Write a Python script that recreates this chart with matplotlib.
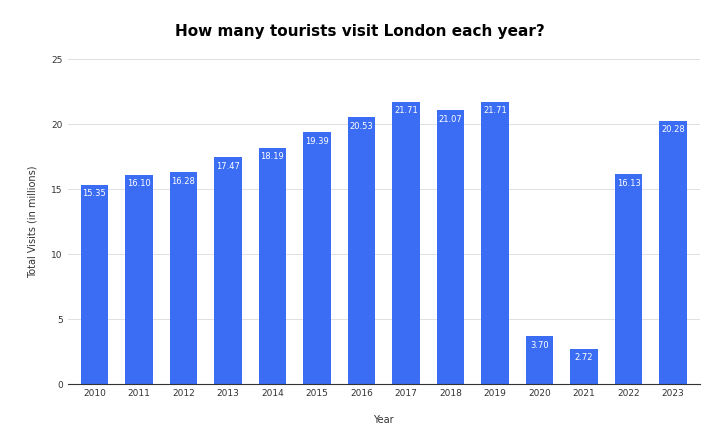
import matplotlib
matplotlib.use("Agg")
import matplotlib.pyplot as plt

years = ["2010","2011","2012","2013","2014","2015","2016","2017","2018","2019","2020","2021","2022","2023"]
visits = [15.35,16.10,16.28,17.47,18.19,19.39,20.53,21.71,21.07,21.71,3.70,2.72,16.13,20.28]

fig = plt.figure(figsize=(7.2,4.45), dpi=100)
ax = fig.add_axes([0.094,0.137,0.878,0.73])
bars = ax.bar(years, visits, width=0.62, color="#3b6cf4", zorder=2)
for b, v in zip(bars, visits):
    ax.text(b.get_x()+b.get_width()/2, v-0.35, f"{v:.2f}", ha="center", va="top",
            color="white", fontsize=6)
ax.set_ylim(0,25)
ax.set_yticks([0,5,10,15,20,25])
ax.set_xlim(-0.6, len(years)-0.4)
ax.grid(axis="y", color="#e0e0e0", linewidth=0.7, zorder=0)
for s in ["top","right","left"]:
    ax.spines[s].set_visible(False)
ax.spines["bottom"].set_color("#333333")
ax.tick_params(axis="both", length=0, labelsize=6.5, colors="#333333")
ax.set_xlabel("Year", fontsize=7, color="#333333", labelpad=12)
ax.set_ylabel("Total Visits (in millions)", fontsize=7, color="#333333", labelpad=10)
fig.suptitle("How many tourists visit London each year?", fontsize=11, fontweight="bold", y=0.945)
fig.savefig("out.png", dpi=100)
